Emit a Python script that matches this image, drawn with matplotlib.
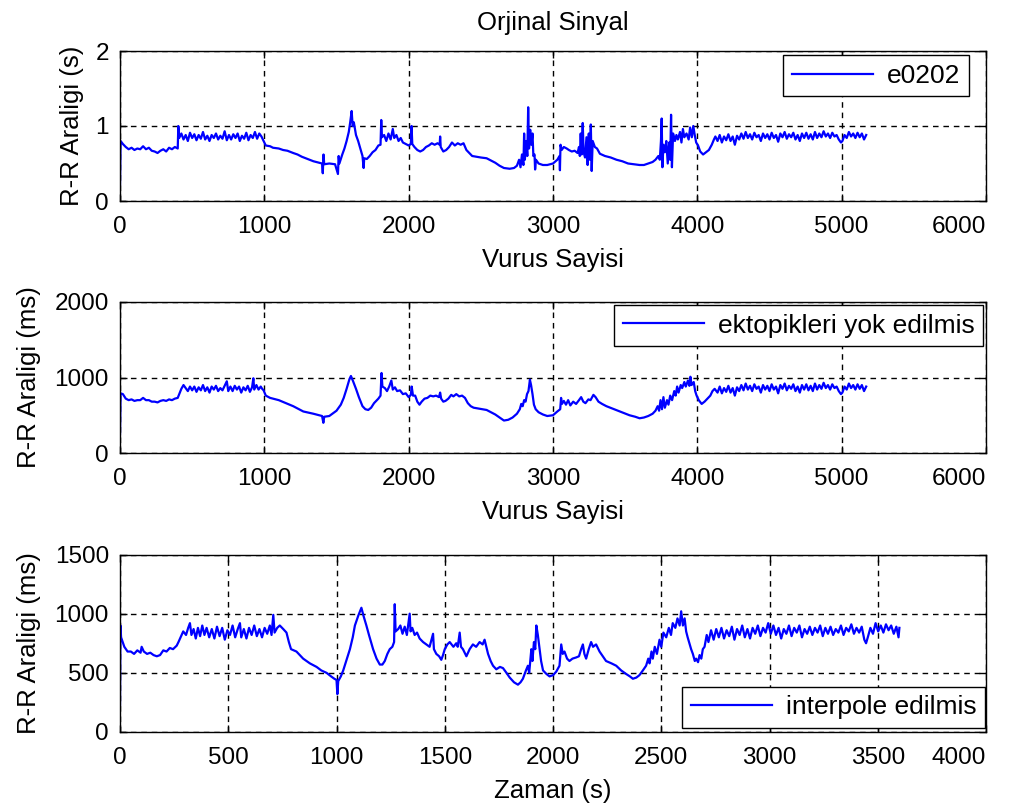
import matplotlib
matplotlib.use("Agg")
import matplotlib.pyplot as plt

# ---------------- data ----------------
# Panel 1: original RR series (seconds) vs beat number
beats_orig = [0, 4, 20, 40, 60, 80, 100, 120, 140, 160, 180, 200, 220, 240, 260, 280, 300, 320, 340, 360, 380, 400,
              404, 410, 425, 440, 455, 470, 485, 500, 515, 530, 545, 560, 575, 590, 605, 620, 635, 650, 665, 680, 695,
              710, 725, 740, 755, 770, 785, 800, 815, 830, 845, 860, 875, 890, 905, 920, 935, 950, 965, 980,
              995, 1010, 1040, 1060, 1100, 1130, 1160, 1200, 1230, 1260, 1300, 1340, 1380, 1400, 1405, 1410, 1415,
              1450, 1490, 1510, 1515, 1520, 1540, 1555, 1570, 1585, 1595, 1605, 1612, 1620, 1635, 1650, 1665, 1680,
              1688, 1692, 1710, 1730, 1750, 1770, 1790, 1805, 1810, 1815, 1830, 1845, 1860, 1875, 1890, 1900, 1915,
              1930, 1945, 1960, 1980, 2000, 2015, 2020, 2025, 2040, 2060, 2080, 2100, 2120, 2140, 2160, 2180, 2200,
              2215, 2218, 2222, 2240, 2260, 2280, 2300, 2320, 2340, 2360, 2380, 2400, 2420, 2440, 2470, 2500, 2540,
              2570, 2600, 2630, 2660, 2700, 2730, 2750, 2765, 2775, 2785, 2795, 2800, 2805, 2815, 2822, 2828, 2834,
              2842, 2850, 2858, 2864, 2872, 2876, 2882, 2900, 2930, 2960, 3000, 3030, 3045, 3048, 3052, 3060, 3075,
              3095, 3110, 3130, 3150, 3170, 3180, 3186, 3192, 3198, 3206, 3212, 3222, 3232, 3240, 3248, 3256, 3262,
              3268, 3275, 3290, 3305, 3325, 3360, 3400, 3440, 3480, 3520, 3560, 3600, 3630, 3660, 3690, 3710, 3730,
              3740, 3748, 3753, 3758, 3765, 3775, 3785, 3795, 3805, 3812, 3818, 3824, 3832, 3845, 3855, 3865, 3880,
              3890, 3900, 3910, 3925, 3940, 3950, 3962, 3972, 3982, 3992, 4005, 4020, 4040, 4060, 4080, 4100, 4115,
              4125, 4140, 4155, 4170, 4185, 4200, 4215, 4230, 4245, 4260, 4275, 4290, 4305, 4320, 4335, 4350, 4365,
              4380, 4395, 4410, 4425, 4440, 4455, 4470, 4485, 4500, 4515, 4530, 4545, 4560, 4575, 4590, 4605, 4620,
              4635, 4650, 4665, 4680, 4695, 4710, 4725, 4740, 4755, 4770, 4785, 4800, 4815, 4830, 4845, 4860, 4875,
              4890, 4905, 4920, 4935, 4950, 4965, 4980, 4995, 5005, 5020, 5035, 5050, 5065, 5080, 5095, 5110, 5125,
              5140, 5155, 5170]
rr_orig_s = [0.22, 0.80, 0.76, 0.72, 0.69, 0.71, 0.68, 0.70, 0.69, 0.73, 0.69, 0.71, 0.67, 0.66, 0.64, 0.67, 0.69, 0.66,
             0.71, 0.69, 0.72, 0.70,
             1.00, 0.84, 0.90, 0.82, 0.88, 0.80, 0.91, 0.84, 0.89, 0.81, 0.88, 0.83, 0.92, 0.82, 0.87, 0.80, 0.88, 0.84,
             0.90, 0.82, 0.87, 0.83, 0.93, 0.81, 0.88, 0.82, 0.89, 0.84, 0.90, 0.80, 0.87, 0.83, 0.91, 0.81, 0.88, 0.84,
             0.92, 0.83, 0.90, 0.86,
             0.80, 0.74, 0.73, 0.71, 0.70, 0.68, 0.67, 0.64, 0.62, 0.59, 0.56, 0.53, 0.51, 0.50, 0.37, 0.62, 0.49,
             0.50, 0.49, 0.36, 0.60, 0.50, 0.62, 0.70, 0.80, 0.92, 1.05, 1.20, 1.00, 1.05, 0.88, 0.80, 0.70, 0.60,
             0.44, 0.57, 0.56, 0.60, 0.65, 0.68, 0.74, 0.75, 1.08, 0.85, 0.88, 0.80, 0.90, 0.82, 0.96, 0.84, 0.88,
             0.80, 0.84, 0.78, 0.76, 0.74, 0.76, 1.00, 0.76, 0.72, 0.68, 0.66, 0.68, 0.72, 0.74, 0.77, 0.75, 0.77,
             0.75, 0.86, 0.72, 0.66, 0.68, 0.72, 0.78, 0.74, 0.77, 0.75, 0.77, 0.68, 0.64, 0.60, 0.59, 0.58, 0.57,
             0.54, 0.51, 0.47, 0.44, 0.43, 0.44, 0.47, 0.55, 0.45, 0.62, 0.48, 0.90, 0.55, 0.80, 0.60, 1.25, 0.70,
             0.95, 0.75, 0.90, 0.60, 0.62, 0.42, 0.55, 0.50, 0.48, 0.48, 0.50, 0.55, 0.60, 0.41, 0.75, 0.68, 0.72,
             0.70, 0.68, 0.66, 0.67, 0.64, 0.72, 0.60, 0.90, 0.62, 1.04, 0.65, 0.58, 0.85, 0.48, 0.90, 0.55, 1.02,
             0.40, 0.80, 0.72, 0.70, 0.63, 0.60, 0.58, 0.55, 0.53, 0.50, 0.49, 0.48, 0.48, 0.50, 0.52, 0.55, 0.60,
             0.55, 0.80, 1.10, 0.45, 0.75, 0.65, 0.80, 0.50, 0.78, 0.55, 1.15, 0.45, 0.90, 0.80, 0.88, 0.82, 0.92,
             0.78, 0.96, 0.85, 0.90, 0.82, 0.98, 0.85, 1.00, 0.88, 0.78, 0.74, 0.66, 0.62, 0.65, 0.68, 0.75, 0.82,
             0.86, 0.80, 0.88, 0.78, 0.86, 0.81, 0.89, 0.80, 0.86, 0.75, 0.87, 0.82, 0.90, 0.83, 0.92, 0.84, 0.89,
             0.82, 0.91, 0.85, 0.88, 0.80, 0.90, 0.84, 0.89, 0.82, 0.91, 0.84, 0.88, 0.79, 0.90, 0.85, 0.92, 0.83,
             0.89, 0.85, 0.91, 0.82, 0.88, 0.80, 0.90, 0.84, 0.91, 0.83, 0.89, 0.82, 0.92, 0.84, 0.90, 0.85, 0.93,
             0.86, 0.90, 0.84, 0.91, 0.86, 0.88, 0.82, 0.78, 0.80, 0.88, 0.84, 0.92, 0.86, 0.90, 0.84, 0.91, 0.85,
             0.90, 0.82, 0.88]

# Panel 2: RR series with ectopic beats removed (ms) vs beat number
beats_clean = [0, 4, 20, 40, 60, 80, 100, 120, 140, 160, 180, 200, 220, 240, 260, 280, 300, 320, 340, 360, 380, 400,
               415, 425, 440, 455, 470, 485, 500, 515, 530, 545, 560, 575, 590, 605, 620, 635, 650, 665, 680, 695, 710,
               725, 740, 750, 765, 780, 795, 810, 825, 840, 855, 870, 885, 900, 915, 924, 930, 945, 960, 975, 985,
               995, 1010, 1040, 1100, 1150, 1200, 1270, 1340, 1400, 1409, 1415, 1450, 1500, 1530, 1550, 1570, 1590,
               1600, 1615, 1635, 1655, 1680, 1700, 1720, 1740, 1760, 1790, 1805, 1812, 1818, 1835, 1850, 1865, 1880,
               1890, 1905, 1920, 1940, 1960, 1980, 2000, 2015, 2021, 2030, 2045, 2060, 2075, 2090, 2110, 2130, 2150,
               2170, 2190, 2210, 2218, 2225, 2240, 2255, 2275, 2295, 2310, 2330, 2350, 2370, 2390, 2410, 2430, 2450,
               2480, 2510, 2540, 2570, 2600, 2630, 2660, 2690, 2720, 2750, 2770, 2780, 2790, 2800, 2810, 2820, 2830,
               2840, 2848, 2858, 2868, 2880, 2900, 2930, 2960, 3000, 3030, 3050, 3056, 3062, 3075, 3090, 3105, 3120,
               3140, 3160, 3180, 3195, 3210, 3225, 3245, 3260, 3280, 3295, 3315, 3340, 3370, 3410, 3450, 3490, 3530,
               3570, 3600, 3630, 3660, 3690, 3710, 3725, 3735, 3745, 3755, 3765, 3775, 3790, 3800, 3812, 3825, 3840,
               3850, 3860, 3870, 3885, 3895, 3910, 3920, 3935, 3945, 3952, 3960, 3975, 3985, 3995, 4010, 4030, 4050,
               4070, 4090, 4105, 4120, 4140, 4155, 4170, 4185, 4200, 4215, 4230, 4245, 4260, 4275, 4290, 4305, 4320,
               4335, 4350, 4365, 4380, 4395, 4410, 4425, 4440, 4455, 4470, 4485, 4500, 4515, 4530, 4545, 4560, 4575,
               4590, 4605, 4620, 4635, 4650, 4665, 4680, 4695, 4710, 4725, 4740, 4755, 4770, 4785, 4800, 4815, 4830,
               4845, 4860, 4875, 4890, 4905, 4920, 4935, 4950, 4965, 4980, 4995, 5005, 5020, 5035, 5050, 5065, 5080,
               5095, 5110, 5125, 5140, 5155, 5170]
rr_clean_ms = [250, 790, 780, 720, 700, 710, 690, 700, 700, 730, 700, 700, 680, 680, 670, 690, 700, 690, 710, 700, 720, 730,
               800, 850, 900, 860, 820, 880, 830, 880, 810, 870, 830, 900, 820, 870, 800, 880, 840, 890, 820, 860, 830,
               890, 950, 820, 880, 820, 890, 840, 880, 800, 870, 830, 890, 810, 870, 990, 840, 900, 840, 880, 850,
               830, 760, 730, 700, 660, 620, 550, 520, 490, 400, 480, 490, 560, 640, 730, 850, 980,
               1020, 950, 850, 740, 620, 580, 570, 600, 660, 720, 760, 1060, 880, 860, 820, 880, 960,
               840, 870, 820, 830, 780, 790, 740, 770, 880, 760, 760, 680, 640, 680, 720, 730, 760,
               750, 760, 740, 800, 720, 680, 690, 720, 770, 750, 780, 750, 760, 730, 660, 620, 600,
               590, 580, 570, 540, 510, 470, 430, 440, 470, 520, 580, 650, 620, 700, 680, 780, 820,
               970, 900, 780, 640, 580, 540, 510, 490, 500, 550, 580, 730, 650, 690, 640, 700, 630,
               680, 650, 700, 740, 680, 660, 710, 700, 770, 740, 680, 650, 620, 590, 560, 530, 500,
               480, 460, 470, 490, 520, 560, 620, 560, 700, 580, 740, 600, 700, 640, 760, 700, 820,
               760, 880, 800, 900, 860, 940, 880, 960, 890, 1010, 900, 940, 820, 760, 700, 650, 680,
               720, 760, 820, 850, 800, 880, 790, 860, 810, 890, 800, 860, 760, 870, 820, 900, 830,
               920, 840, 890, 820, 910, 850, 880, 800, 900, 840, 890, 820, 910, 840, 880, 790, 900,
               850, 920, 830, 890, 850, 910, 820, 880, 800, 900, 840, 910, 830, 890, 820, 920, 840,
               900, 850, 930, 860, 900, 840, 910, 860, 880, 820, 780, 800, 880, 840, 920, 860, 900,
               840, 910, 850, 900, 820, 880]

# Panel 3: interpolated RR series (ms) vs time (s)
t_interp = [0, 2, 5, 20, 35, 50, 65, 80, 95, 100, 110, 125, 140, 155, 170, 185, 200, 215, 230, 245, 262, 270, 280, 292,
            305, 315, 323, 330, 340, 350, 360, 370, 380, 390,
            400, 412, 424, 436, 448, 460, 472, 484, 496, 508, 520, 532, 544, 554, 560, 572, 584, 596, 608, 620, 632,
            644, 656, 668, 680, 692, 700, 708, 714, 726,
            738, 754, 769, 780, 790, 815, 846, 877, 908, 930, 954, 975, 990, 1000, 1004, 1008, 1020, 1031, 1045,
            1062, 1075, 1085, 1100, 1115, 1125, 1138, 1150, 1169, 1185, 1200, 1212, 1223, 1235, 1246, 1258, 1266,
            1269, 1273, 1285, 1295, 1305, 1315, 1325, 1338, 1342, 1350, 1361, 1372, 1384, 1400, 1415, 1430, 1446,
            1450, 1461, 1474, 1484, 1492, 1500, 1512, 1523, 1540, 1553, 1560, 1569, 1575, 1584, 1600, 1615, 1630,
            1645, 1661, 1675, 1684, 1692, 1700, 1712, 1723, 1738, 1755, 1769, 1785, 1800, 1820, 1838, 1850, 1861,
            1875, 1884, 1890, 1900, 1905, 1912, 1918, 1923, 1930, 1938, 1945, 1954, 1970, 1984, 2000, 2015, 2030,
            2038, 2045, 2053, 2065, 2076, 2090, 2107, 2120, 2130, 2138, 2145, 2153, 2165, 2176, 2185, 2199, 2215,
            2230, 2245, 2270, 2292, 2315, 2338, 2355, 2369, 2385, 2399, 2415, 2430, 2440, 2446, 2455, 2461, 2470,
            2480, 2492, 2500, 2510, 2523, 2535, 2545, 2553, 2565, 2575, 2585, 2592, 2600, 2608, 2615, 2622, 2630,
            2638, 2646, 2655, 2661, 2670, 2677, 2685, 2692, 2700, 2710, 2718, 2723,
            2730, 2742, 2754, 2766, 2778, 2790, 2802, 2814, 2826, 2838, 2850, 2862, 2874, 2886, 2898, 2910, 2922,
            2934, 2946, 2958, 2970, 2982, 2994, 3006, 3018, 3030, 3042, 3054, 3066, 3078, 3090, 3102, 3114, 3126,
            3138, 3150, 3162, 3174, 3186, 3198, 3210, 3222, 3234, 3246, 3258, 3270, 3282, 3294, 3306, 3318, 3330,
            3342, 3354, 3366, 3378, 3390, 3402, 3414, 3426, 3438, 3446, 3454, 3466, 3478, 3490, 3502, 3514, 3526,
            3538, 3550, 3562, 3574, 3586, 3596, 3600]
rr_interp_ms = [230, 900, 800, 720, 680, 680, 660, 690, 670, 720, 680, 660, 670, 650, 640, 650, 690, 680, 710, 700, 730,
                760, 800, 850, 820, 880, 920, 820, 870, 790, 880, 810, 900, 820,
                880, 800, 870, 790, 890, 810, 880, 780, 860, 820, 900, 800, 870, 920, 800, 870, 790, 880, 820, 900,
                810, 870, 800, 880, 830, 900, 820, 990, 840, 880,
                900, 870, 840, 760, 700, 680, 620, 580, 550, 520, 500, 470, 450, 440, 320, 430, 470, 520, 600,
                700, 800, 900, 980, 1050, 980, 900, 820, 700, 620, 570, 570, 600, 660, 700, 720, 760,
                1080, 850, 870, 900, 830, 890, 820, 1000, 850, 880, 820, 840, 790, 760, 740, 720, 830,
                700, 660, 640, 610, 650, 700, 740, 760, 720, 750, 720, 840, 720, 700, 640, 700, 740,
                720, 760, 740, 780, 720, 660, 600, 560, 530, 550, 540, 500, 460, 420, 400, 420, 450,
                520, 560, 500, 700, 600, 760, 700, 900, 820, 700, 600, 520, 490, 470, 480, 510, 560,
                740, 660, 680, 620, 600, 620, 630, 640, 700, 740, 660, 620, 700, 760, 720, 740, 680,
                640, 600, 580, 560, 520, 490, 470, 450, 460, 480, 520, 560, 620, 580, 680, 620, 720,
                660, 780, 720, 840, 800, 880, 820, 920, 880, 960, 900, 1020, 900, 960, 850, 800, 750,
                700, 660, 600, 620, 590, 650, 620, 700, 720, 820, 760, 800,
                860, 780, 870, 800, 880, 790, 860, 810, 890, 780, 870, 820, 900, 800, 870, 790, 880,
                830, 900, 810, 880, 840, 920, 830, 900, 820, 880, 790, 870, 830, 900, 810, 880, 840,
                900, 800, 870, 830, 890, 820, 880, 840, 900, 810, 880, 830, 890, 820, 870, 840, 900,
                820, 880, 850, 910, 830, 880, 840, 890, 780, 750, 800, 880, 830, 920, 850, 900, 840,
                910, 860, 900, 830, 890, 800, 880]

# ---------------- styling ----------------
plt.rcParams['font.family'] = ['Liberation Sans', 'DejaVu Sans']
TICK_FS = 17.5
LABEL_FS = 18.5
LEGEND_FS = 19
BLUE = (0, 0, 1)
LW = 1.6

fig = plt.figure(figsize=(10.27, 8.11), dpi=100)
W, H = 1027.0, 811.0

def make_axes(left, top, right, bottom):
    return fig.add_axes([left / W, 1 - bottom / H, (right - left) / W, (bottom - top) / H])

def style(ax):
    ax.grid(True, color='black', linestyle=(0, (4, 3.5)), linewidth=1.0)
    ax.tick_params(direction='in', length=5, width=1, labelsize=TICK_FS, top=True, right=True)
    ax.tick_params(axis='x', pad=11)
    ax.tick_params(axis='y', pad=8)
    for s in ax.spines.values():
        s.set_linewidth(1.0)
        s.set_color('black')
    ax.set_axisbelow(True)
    # last x tick label kept inside the axes edge, as in the reference
    labels = ax.get_xticklabels()
    labels[-1].set_horizontalalignment('right')

def legend(ax, loc, anchor):
    lg = ax.legend(loc=loc, bbox_to_anchor=anchor, fontsize=LEGEND_FS, fancybox=False, framealpha=1,
                   edgecolor='black', handlelength=3.1, borderpad=0.33, handletextpad=0.5,
                   borderaxespad=0.0)
    lg.get_frame().set_linewidth(1.0)
    return lg

ax1 = make_axes(120, 51, 986, 201)
ax1.plot(beats_orig, rr_orig_s, color=BLUE, linewidth=LW, label='e0202')
ax1.set_xlim(0, 6000)
ax1.set_ylim(0, 2)
ax1.set_xticks([0, 1000, 2000, 3000, 4000, 5000, 6000])
ax1.set_yticks([0, 1, 2])
style(ax1)
ax1.set_xlabel('Vurus Sayisi', fontsize=LABEL_FS, labelpad=7)
ax1.set_ylabel('R-R Araligi (s)', fontsize=LABEL_FS, labelpad=8)
ax1.set_title('Orjinal Sinyal', fontsize=LABEL_FS, pad=15)
legend(ax1, 'upper right', (0.980, 0.973))

ax2 = make_axes(120, 302, 986, 453)
ax2.plot(beats_clean, rr_clean_ms, color=BLUE, linewidth=LW, label='ektopikleri yok edilmis')
ax2.set_xlim(0, 6000)
ax2.set_ylim(0, 2000)
ax2.set_xticks([0, 1000, 2000, 3000, 4000, 5000, 6000])
ax2.set_yticks([0, 1000, 2000])
style(ax2)
ax2.set_xlabel('Vurus Sayisi', fontsize=LABEL_FS, labelpad=7)
ax2.set_ylabel('R-R Araligi (ms)', fontsize=LABEL_FS, labelpad=10)
legend(ax2, 'upper right', (0.9965, 0.98))

ax3 = make_axes(120, 554.5, 986, 732)
ax3.plot(t_interp, rr_interp_ms, color=BLUE, linewidth=LW, label='interpole edilmis')
ax3.set_xlim(0, 4000)
ax3.set_ylim(0, 1500)
ax3.set_xticks([0, 500, 1000, 1500, 2000, 2500, 3000, 3500, 4000])
ax3.set_yticks([0, 500, 1000, 1500])
style(ax3)
ax3.set_xlabel('Zaman (s)', fontsize=LABEL_FS, labelpad=7)
ax3.set_ylabel('R-R Araligi (ms)', fontsize=LABEL_FS, labelpad=10)
legend(ax3, 'lower right', (0.9988, 0.0225))

fig.savefig('out.png', dpi=100)
